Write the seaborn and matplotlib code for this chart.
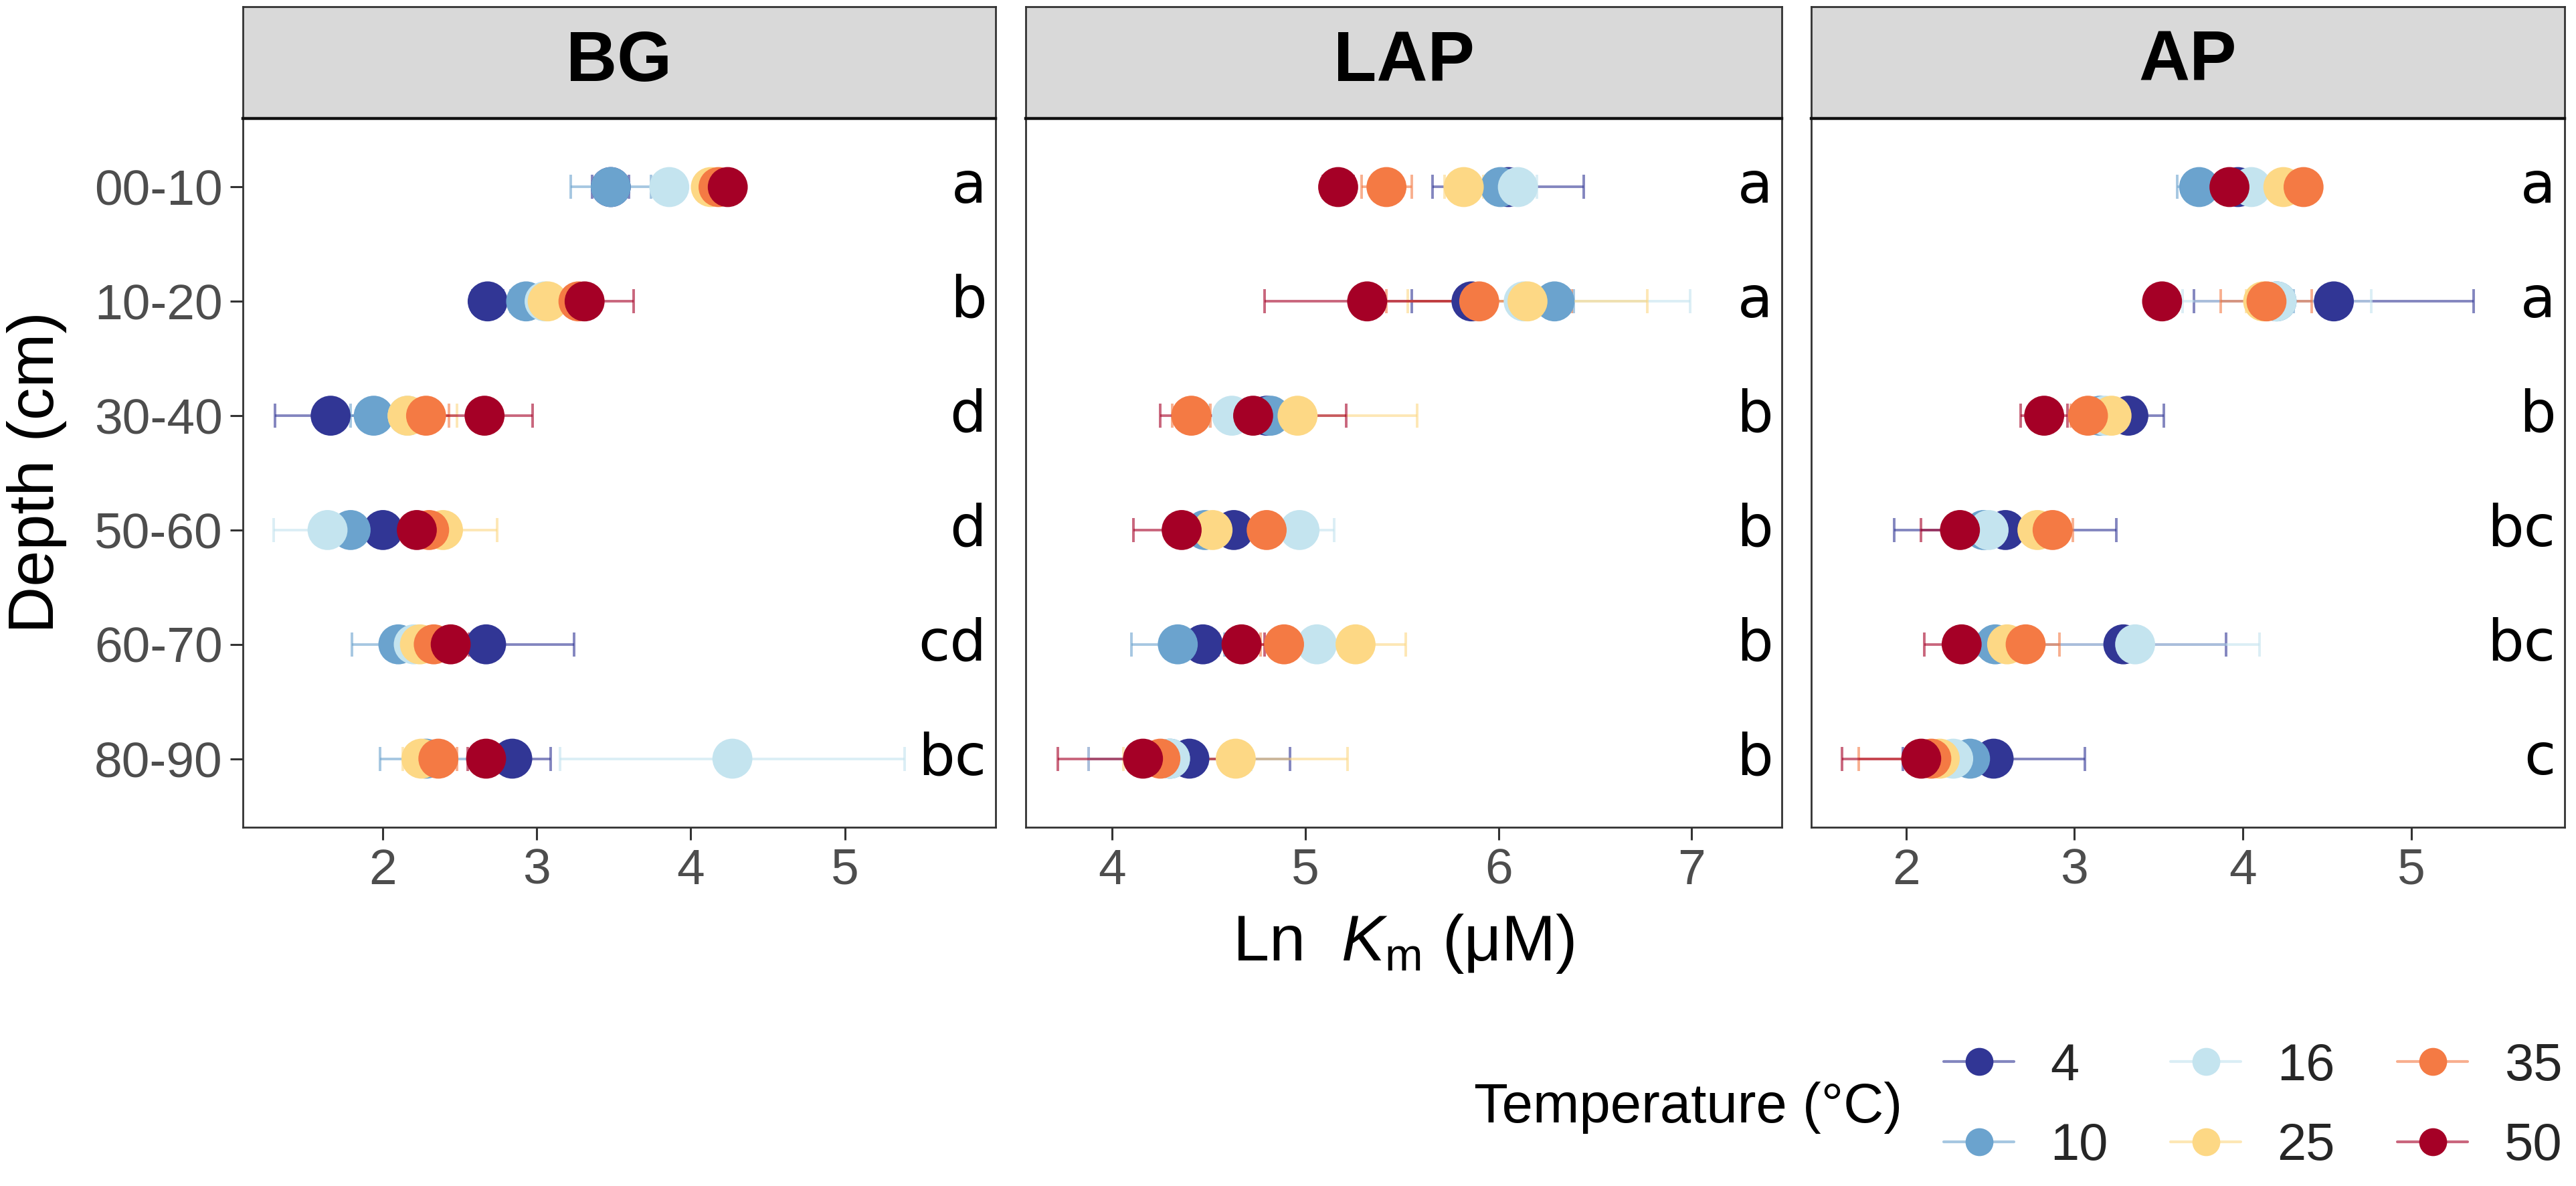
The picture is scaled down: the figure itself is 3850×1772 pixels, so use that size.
import numpy as np
import pandas as pd
import matplotlib
matplotlib.use("Agg")
import matplotlib.pyplot as plt
import matplotlib.transforms as mtransforms
from matplotlib.lines import Line2D
import seaborn as sns

depths = ["00-10", "10-20", "30-40", "50-60", "60-70", "80-90"]
temps = [4, 10, 16, 25, 35, 50]
enzymes = ["BG", "LAP", "AP"]

# mean Ln Km, rows = depth, columns = temperature (4, 10, 16, 25, 35, 50)
bg_mean = [[3.48, 3.48, 3.86, 4.13, 4.18, 4.24],
           [2.68, 2.93, 3.05, 3.07, 3.27, 3.31],
           [1.66, 1.94, 2.16, 2.16, 2.28, 2.66],
           [2.00, 1.79, 1.64, 2.39, 2.30, 2.22],
           [2.67, 2.10, 2.20, 2.24, 2.33, 2.44],
           [2.84, 2.28, 4.27, 2.25, 2.36, 2.67]]
bg_se = [[0.12, 0.26, 0.08, 0.06, 0.06, 0.05],
         [0.10, 0.10, 0.10, 0.10, 0.12, 0.32],
         [0.36, 0.15, 0.15, 0.32, 0.15, 0.31],
         [0.15, 0.15, 0.35, 0.35, 0.12, 0.12],
         [0.57, 0.30, 0.12, 0.12, 0.12, 0.12],
         [0.25, 0.30, 1.12, 0.12, 0.12, 0.12]]
bg_letters = ["a", "b", "d", "d", "cd", "bc"]

lap_mean = [[6.05, 6.01, 6.10, 5.82, 5.42, 5.17],
            [5.86, 6.29, 6.13, 6.15, 5.90, 5.32],
            [4.80, 4.82, 4.62, 4.96, 4.41, 4.73],
            [4.63, 4.48, 4.97, 4.52, 4.80, 4.36],
            [4.47, 4.34, 5.06, 5.26, 4.89, 4.67],
            [4.40, 4.30, 4.30, 4.64, 4.25, 4.16]]
lap_se = [[0.39, 0.12, 0.10, 0.10, 0.13, 0.08],
          [0.31, 0.10, 0.86, 0.62, 0.48, 0.53],
          [0.12, 0.12, 0.12, 0.62, 0.10, 0.48],
          [0.12, 0.12, 0.18, 0.12, 0.12, 0.25],
          [0.12, 0.24, 0.12, 0.26, 0.12, 0.12],
          [0.52, 0.12, 0.42, 0.58, 0.10, 0.44]]
lap_letters = ["a", "a", "b", "b", "b", "b"]

ap_mean = [[3.97, 3.74, 4.05, 4.24, 4.36, 3.92],
           [4.54, 4.20, 4.20, 4.12, 4.14, 3.52],
           [3.32, 3.15, 3.18, 3.22, 3.08, 2.82],
           [2.59, 2.46, 2.49, 2.78, 2.87, 2.32],
           [3.29, 2.53, 3.36, 2.60, 2.71, 2.33],
           [2.52, 2.38, 2.28, 2.20, 2.15, 2.09]]
ap_se = [[0.08, 0.13, 0.08, 0.08, 0.06, 0.06],
         [0.83, 0.10, 0.56, 0.10, 0.27, 0.08],
         [0.21, 0.10, 0.10, 0.10, 0.10, 0.14],
         [0.66, 0.10, 0.10, 0.10, 0.12, 0.23],
         [0.61, 0.10, 0.74, 0.10, 0.20, 0.22],
         [0.54, 0.10, 0.10, 0.10, 0.43, 0.47]]
ap_letters = ["a", "a", "b", "bc", "bc", "c"]

means = {"BG": bg_mean, "LAP": lap_mean, "AP": ap_mean}
ses = {"BG": bg_se, "LAP": lap_se, "AP": ap_se}
letters = {"BG": bg_letters, "LAP": lap_letters, "AP": ap_letters}

colors = ["#313695", "#6BA3CE", "#C4E4EF", "#FDD885", "#F47A44", "#A50026"]
palette = dict(zip(temps, colors))

# long table, temperature-major so the 50 °C points are drawn last
rows = []
for enz in enzymes:
    for j, t in enumerate(temps):
        for i, d in enumerate(depths):
            rows.append({"enzyme": enz, "temp": t, "depth": d, "pos": i,
                         "km": means[enz][i][j], "se": ses[enz][i][j]})
df = pd.DataFrame(rows)

sns.set_theme(style="white")
plt.rcParams["font.family"] = ["Liberation Sans", "DejaVu Sans"]
plt.rcParams["mathtext.fontset"] = "custom"
plt.rcParams["mathtext.rm"] = "Liberation Sans"
plt.rcParams["mathtext.it"] = "Liberation Sans:italic"

W, H = 3850, 1772
fig = plt.figure(figsize=(W / 100, H / 100), dpi=100)
fig.patch.set_facecolor("white")

panels = {"BG": (363, 1488, (1.09, 5.98), [2, 3, 4, 5]),
          "LAP": (1533, 2663, (3.553, 7.466), [4, 5, 6, 7]),
          "AP": (2707, 3833, (1.437, 5.91), [2, 3, 4, 5])}
top_px, bot_px, strip_top = 177, 1236, 10
edge = "#333333"

for k, enz in enumerate(enzymes):
    x0, x1, xlim, xt = panels[enz]
    ax = fig.add_axes([x0 / W, 1 - bot_px / H, (x1 - x0) / W, (bot_px - top_px) / H])
    sub = df[df.enzyme == enz]
    for t in temps:
        d = sub[sub.temp == t]
        ax.errorbar(d.km, d.pos, xerr=d.se, fmt="none", ecolor=palette[t],
                    alpha=0.6, elinewidth=2.8, capsize=13, capthick=2.8, zorder=2)
    sns.scatterplot(data=sub, x="km", y="pos", hue="temp", palette=palette,
                    s=1850, linewidth=0, legend=False, ax=ax, zorder=3)
    ax.set_xlim(*xlim)
    ax.set_ylim(5.6, -0.6)
    ax.set_xticks(xt)
    ax.set_xticklabels([str(v) for v in xt])
    ax.set_xlabel("")
    ax.set_ylabel("")
    ax.set_yticks(range(len(depths)))
    if k == 0:
        ax.set_yticklabels(depths)
        ax.tick_params(axis="y", left=True, length=14, width=2.2, color=edge,
                       labelsize=54, labelcolor="#4D4D4D", pad=8)
    else:
        ax.set_yticklabels([])
        ax.tick_params(axis="y", left=False, length=0)
    ax.tick_params(axis="x", bottom=True, length=14, width=2.2, color=edge,
                   labelsize=54, labelcolor="#4D4D4D", pad=8)
    for sp in ax.spines.values():
        sp.set_color(edge)
        sp.set_linewidth(2.0)
    ax.grid(False)
    trans = mtransforms.blended_transform_factory(ax.transAxes, ax.transData)
    for i, lab in enumerate(letters[enz]):
        ax.text(0.988, i, lab, transform=trans, ha="right", va="center",
                fontsize=62, color="black", family="DejaVu Sans")

    # facet strip
    sax = fig.add_axes([x0 / W, 1 - top_px / H, (x1 - x0) / W, (top_px - strip_top) / H])
    sax.set_facecolor("#D9D9D9")
    sax.set_xticks([])
    sax.set_yticks([])
    for sp in sax.spines.values():
        sp.set_color(edge)
        sp.set_linewidth(2.0)
    sax.spines["bottom"].set_color("#111111")
    sax.spines["bottom"].set_linewidth(3.2)
    sax.text(0.5, 0.5, enz, transform=sax.transAxes, ha="center", va="center",
             fontsize=76, fontweight="bold", color="black")

fig.text(55 / W, 1 - 706 / H, "Depth (cm)", rotation=90, ha="center",
         va="center", fontsize=70, color="black")
fig.text(2098 / W, 1 - 1410 / H, r"Ln  $\mathit{K}_\mathrm{m}$ (μM)", ha="center",
         va="center", fontsize=70, color="black")

handles = []
for c in colors:
    handles.append((Line2D([], [], color=c, lw=3, alpha=0.6),
                    Line2D([], [], marker="o", color=c, ms=29, ls="none")))
fig.text(2843 / W, 1 - 1655 / H, "Temperature (°C)", ha="right", va="center",
         fontsize=60, color="black")
fig.legend(handles, [str(t) for t in temps], ncol=3, loc="center left",
           bbox_to_anchor=(2905 / W, 1 - 1653 / H), frameon=False, fontsize=56,
           handlelength=1.35, handletextpad=0.7, columnspacing=1.2,
           labelspacing=0.6, borderpad=0, borderaxespad=0)

fig.savefig("out.png", dpi=100, facecolor="white")
